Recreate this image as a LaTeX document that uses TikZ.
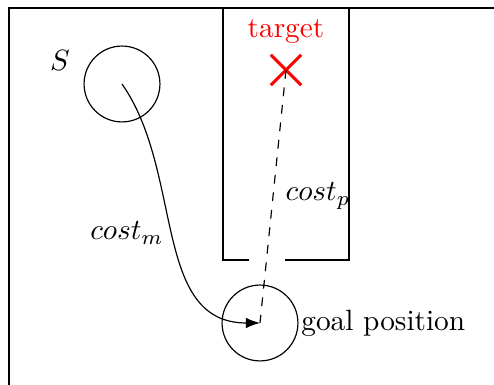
\documentclass[tikz,border=0pt]{standalone}
\usepackage{xcolor}
\usepackage{tikz}
\usetikzlibrary{arrows.meta,positioning,shapes.misc}

\begin{document}
\begin{tikzpicture}[x=0.012cm,y=-0.012cm]
  \tikzset{
    wall/.style={thick, line cap=rect},
    area/.style={circle, draw, minimum size=0.91cm, inner sep=0pt}
  }
  \useasboundingbox (0,0) rectangle (494,385);
  % room walls
  \draw[wall] (9,385) -- (9,8) -- (494,8);
  % shelf with opening
  \draw[wall] (248,260) -- (223,260) -- (223,8);
  \draw[wall] (286,260) -- (349,260) -- (349,8);
  % start, target, goal
  \node[area] (start) at (122,84) {};
  \node (slabel) at (60,60) {$S$};
  \node[cross out, draw=red, line width=1pt, minimum size=0.33cm, inner sep=0pt] (target) at (286,70) {};
  \node[red] (tlabel) at (286,32) {target};
  \node[area] (goal) at (260,323) {};
  \node[anchor=west] (glabel) at (291,323) {goal position};
  % costs
  \draw[-{Latex[length=1.7mm]}] (start.center) to[out=-55, in=180] (goal.center);
  \draw[dashed] (target.center) -- (goal.center);
  \node (cm) at (127,233) {$cost_m$};
  \node (cp) at (318,196) {$cost_p$};
\end{tikzpicture}
\end{document}
